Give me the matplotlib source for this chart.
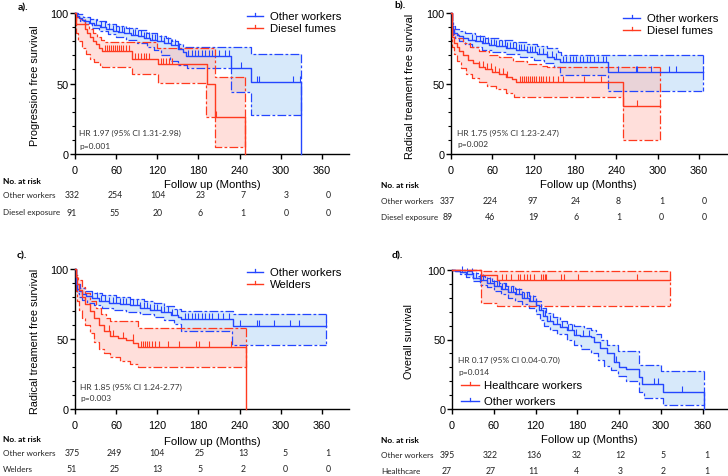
import numpy as np
import matplotlib
matplotlib.use('Agg')
import matplotlib.pyplot as plt
from matplotlib.lines import Line2D

W, H = 728, 477
BLUE = "#2446FF"
RED = "#FF3A1F"
BLUE_FILL = "#A8D0F6"
RED_FILL = "#FFB9B0"
AX_FONT = "Liberation Sans"
SMALL_FONT = "Lato"

# ---- data: (months, survival %) step points ----
# a) progression free survival
a_oth = [(0,100),(3,98),(6,96.5),(10,95),(15,94),(20,93),(28,91.5),(36,90),(45,89),(55,87.5),(62,86.5),(72,85.5),(82,84.5),(92,83.5),(100,82.5),(110,81),(120,80),(130,78.5),(140,77),(150,74.5),(157,72),(162,69.5),(228,61),(256,51.3),(329,0)]
a_oth_hi = [(0,100),(5,99),(12,97.5),(22,96),(32,94),(45,92.5),(60,91),(75,89.5),(90,88),(105,86),(120,84),(132,82),(142,80),(150,78),(157,76),(256,71),(329,71)]
a_oth_lo = [(0,100),(3,97),(8,94),(15,92),(25,89.5),(35,87),(48,85),(60,83),(75,81),(90,79),(105,76),(115,74),(125,70),(138,66),(150,63),(163,61),(228,43.7),(256,27.8),(329,27.8)]
a_die = [(0,100),(2,92),(12,92),(15,89),(18,86),(22,83),(26,80),(30,78),(35,75.5),(40,73),(83,67.5),(121,64),(192,50),(204,26),(248,0)]
a_die_hi = [(0,100),(2,97),(8,95.5),(14,92),(20,89),(26,86),(32,83),(38,81),(43,79.5),(120,75),(204,54.4),(248,54.4)]
a_die_lo = [(0,100),(2,86),(5,80),(10,75.5),(16,71),(22,67.5),(28,65),(36,63),(40,61.5),(83,56.7),(121,50.6),(191,26),(204,5.2),(248,5.2)]
a_oth_cens = [22,30,38,44,50,56,60,64,68,72,78,84,88,92,96,100,104,108,112,116,120,125,130,135,140,146,152,165,170,175,180,185,190,196,200,210,218,225,242,265,268,318,328]
a_die_cens = [44,47,50,53,56,58,61,64,67,70,74,78,88,92,96,100,104,108,126,129,133,137,142,205]

# b) radical treatment free survival, diesel
b_oth = [(0,100),(1,95),(2,91),(3,88),(5,86),(8,84.5),(12,83.5),(18,82.5),(25,81),(35,80),(45,78.5),(55,77.5),(65,76.5),(80,75.5),(95,74),(110,72.5),(125,71),(140,69),(150,67.5),(158,65),(228,58.3),(366,58.3)]
b_oth_hi = [(0,100),(1,97),(2,93.5),(3,90.5),(6,88.5),(12,87),(20,86),(35,84),(50,82.5),(70,81),(90,79.5),(110,78),(125,76.5),(140,75),(155,72.5),(160,70),(366,70)]
b_oth_lo = [(0,100),(1,93),(2,88),(3,84.5),(6,82),(12,80),(20,78),(30,76),(45,74),(60,72.5),(80,71),(100,69),(120,67),(135,64.5),(150,62),(158,56),(228,45),(366,45)]
b_die = [(0,100),(1,88),(2,83),(4,79),(8,76),(12,73),(18,70),(25,67),(32,64.5),(40,62),(50,60),(60,58.4),(70,56.5),(80,54.5),(88,53),(95,51.3),(250,34.3),(303,34.3)]
b_die_hi = [(0,100),(1,93),(2,89),(5,85),(10,82),(18,79),(28,76),(40,73),(55,70.5),(70,68.5),(90,66),(110,64),(130,62.5),(140,61.5),(303,61.5)]
b_die_lo = [(0,100),(1,82),(2,76),(4,71),(8,66),(14,61),(22,57),(30,54),(40,51),(52,48),(65,46),(80,43.5),(92,40.2),(250,10.2),(303,10.2)]
b_oth_cens = [30,36,42,46,50,54,58,62,66,70,74,78,82,86,90,94,98,102,106,110,114,118,122,128,134,140,146,152,162,167,172,177,182,187,192,197,202,208,214,220,225,242,268,270,291,317,327,366]
b_die_cens = [40,46,52,58,64,70,76,82,100,103,106,109,112,115,118,121,124,127,130,134,138,142,148,155,162,193,218,270]

# c) radical treatment free survival, welders
c_oth = [(0,100),(1,94),(2,89),(3,86),(6,84),(10,82),(16,80.5),(25,79),(35,77.5),(50,76),(65,75),(80,74),(95,72.5),(110,71),(125,69.5),(140,67.5),(150,66),(155,64.3),(230,59),(366,59)]
c_oth_hi = [(0,100),(1,96),(2,92),(3,89.5),(8,86.5),(15,84.5),(25,83),(40,81.5),(60,80),(80,78.5),(100,77),(115,75.5),(130,73.5),(145,71.5),(155,69.8),(230,67.9),(366,67.9)]
c_oth_lo = [(0,100),(1,92),(2,86),(3,83),(6,80),(10,78),(18,76),(28,74),(40,72.5),(55,71),(75,69.5),(95,68),(115,65.5),(130,63.5),(145,61),(155,56),(229,46),(366,46)]
c_wel = [(0,100),(1,94),(3,89),(6,85),(10,80),(15,75),(22,70),(28,65),(35,60),(42,56),(51,52),(62,50.5),(75,49),(85,47),(92,44),(249,0)]
c_wel_hi = [(0,100),(2,96),(5,92),(10,87),(15,83),(22,77),(30,72),(38,68),(45,65),(51,63),(92,58),(249,58)]
c_wel_lo = [(0,100),(1,84),(3,77),(6,71),(10,65),(15,60),(22,54),(28,48),(35,43),(42,40),(51,37),(65,34),(80,32),(92,30),(249,30)]
c_oth_cens = [25,32,38,44,50,55,60,65,70,75,80,85,90,95,100,105,110,115,120,125,130,136,142,148,160,165,170,175,180,185,190,195,200,208,216,224,240,265,268,290,313,327,366]
c_wel_cens = [50,56,70,84,96,99,102,105,108,112,116,122,136,152,176,181,196,228]

# d) overall survival
d_hc = [(0,100),(41,96.3),(65,92.8),(313,92.8)]
d_hc_hi = [(0,100),(41,99.6),(65,99.2),(313,99.2)]
d_hc_lo = [(0,100),(41,76.5),(65,74),(313,74)]
d_oth = [(0,100),(5,99.5),(12,98.5),(20,97),(30,94.5),(40,92.5),(50,90.5),(60,88.5),(70,86.5),(80,84.5),(90,82.5),(100,80),(110,77.5),(120,74.5),(125,71),(130,67),(136,63.5),(145,61),(155,59),(165,57),(175,53.5),(183,52.5),(200,52),(204,48),(212,44),(222,40),(232,34),(240,30),(250,28.5),(268,23),(272,18),(303,12),(362,0)]
d_oth_hi = [(0,100),(10,100),(18,99),(28,97.5),(38,96),(48,94),(58,92),(68,90.5),(78,88.5),(90,86),(100,84),(110,81),(120,77.5),(128,73),(135,69),(145,66),(155,63),(165,61),(175,59.5),(190,58.5),(200,57),(207,54),(214,50),(222,46),(238,42),(268,32),(300,27),(362,27)]
d_oth_lo = [(0,100),(5,99),(12,97),(20,95),(30,92),(40,89.5),(50,87.5),(60,85),(70,83),(80,80),(90,78),(100,75.5),(110,72.5),(120,68.5),(126,64),(132,60),(140,57),(150,54),(165,50),(175,46),(185,43),(200,40),(210,35),(218,31),(228,28),(238,24),(250,20),(268,12),(276,8),(303,3),(362,3)]
d_hc_cens = [72,78,84,94,98,104,108,112,118,127,130,133,135,156,160,181,266,313]
d_oth_cens = [15,22,28,34,40,45,50,55,60,64,68,72,76,80,84,88,92,96,100,104,108,112,116,120,128,134,140,150,158,166,172,178,188,196,232,236,290,295,330]

# numbers at risk
months_risk = [0, 60, 120, 180, 240, 300, 360]
a_risk = {"Other workers": [332, 254, 104, 23, 7, 3, 0], "Diesel exposure": [91, 55, 20, 6, 1, 0, 0]}
b_risk = {"Other workers": [337, 224, 97, 24, 8, 1, 0], "Diesel exposure": [89, 46, 19, 6, 1, 0, 0]}
c_risk = {"Other workers": [375, 249, 104, 25, 13, 5, 1], "Welders": [51, 25, 13, 5, 2, 0, 0]}
d_risk = {"Other workers": [395, 322, 136, 32, 12, 5, 1], "Healthcare": [27, 27, 11, 4, 3, 2, 1]}


def fx(x):
    return x / W


def fy(y):
    return 1 - y / H


def step_at(t, s, q):
    idx = np.searchsorted(t, q, side='right') - 1
    return s[np.clip(idx, 0, None)]


def group(ax, main, hi, lo, cens, color, fill):
    t, s = np.array(main, dtype=float).T
    th, sh = np.array(hi, dtype=float).T
    tl, sl = np.array(lo, dtype=float).T
    tt = np.union1d(th, tl)
    tt = tt[tt <= min(th[-1], tl[-1])]
    ax.fill_between(tt, step_at(tl, sl, tt), step_at(th, sh, tt), step='post',
                    color=fill, alpha=0.45, lw=0, zorder=1)
    dash = (0, (7, 1.8, 2.2, 1.8))
    ax.plot(th, sh, drawstyle='steps-post', color=color, lw=0.9, ls=dash, clip_on=False, zorder=2)
    ax.plot(tl, sl, drawstyle='steps-post', color=color, lw=0.9, ls=dash, clip_on=False, zorder=2)
    ax.plot([th[-1], th[-1]], [sh[-1], sl[-1]], color=color, lw=0.9, ls=dash, clip_on=False, zorder=2)
    ax.plot(t, s, drawstyle='steps-post', color=color, lw=1.0, clip_on=False, zorder=3)
    c = np.array(cens, dtype=float)
    ax.plot(c, step_at(t, s, c), ls='none', marker=2, ms=4, mew=0.8, color=color, clip_on=False, zorder=3)


def style(ax, xmax, ylabel, ylab_x, xlab_y):
    ax.set_xlim(0, xmax)
    ax.set_ylim(0, 100)
    for sp in ['top', 'right']:
        ax.spines[sp].set_visible(False)
    for sp in ['left', 'bottom']:
        ax.spines[sp].set_linewidth(1.0)
    ax.set_xticks(months_risk)
    ax.set_yticks([0, 50, 100])
    ax.set_yticks(np.arange(0, 101, 10), minor=True)
    ax.tick_params(axis='both', which='major', direction='out', length=3.6, width=1.0,
                   labelsize=7.8, pad=1)
    ax.tick_params(axis='x', which='major', pad=4)
    ax.tick_params(axis='y', which='minor', length=2.2, width=0.8)
    for lab in ax.get_xticklabels() + ax.get_yticklabels():
        lab.set_fontfamily(AX_FONT)
    ax.set_ylabel(ylabel, fontsize=7.8, fontfamily=AX_FONT)
    ax.yaxis.set_label_coords(ylab_x, 0.49)
    ax.set_xlabel("Follow up (Months)", fontsize=8.2, fontfamily=AX_FONT)
    ax.xaxis.set_label_coords(0.5, xlab_y)


def legend(fig, x1, x2, xt, rows):
    for (y, color, text) in rows:
        fig.add_artist(Line2D([fx(x1), fx(x2)], [fy(y), fy(y)], color=color, lw=1.0))
        xm = (x1 + x2) / 2
        fig.add_artist(Line2D([fx(xm), fx(xm)], [fy(y), fy(y - 3.5)], color=color, lw=0.9))
        fig.text(fx(xt), fy(y), text, fontsize=8.2, fontfamily=AX_FONT, va='center', ha='left')


def hr_text(fig, x, y1, y2, hr, p):
    fig.text(fx(x), fy(y1), hr, fontsize=6, fontfamily=SMALL_FONT, color="#333333", va='center')
    fig.text(fx(x), fy(y2), p, fontsize=6, fontfamily=SMALL_FONT, color="#333333", va='center')


def risk_table(fig, lx, ys, nx0, step, risk):
    fig.text(fx(lx), fy(ys[0]), "No. at risk", fontsize=6.0, fontweight='bold',
             fontfamily=SMALL_FONT, va='center')
    for (name, vals), y in zip(risk.items(), ys[1:]):
        fig.text(fx(lx), fy(y), name, fontsize=5.9, fontfamily=SMALL_FONT, va='center', color="#222222")
        for i, v in enumerate(vals):
            fig.text(fx(nx0 + i * step), fy(y), str(v), fontsize=6.3, fontfamily=SMALL_FONT,
                     va='center', ha='center', color="#222222")


fig = plt.figure(figsize=(W / 100, H / 100), dpi=100)
fig.patch.set_facecolor("white")

ax_a = fig.add_axes([fx(75), fy(155), (349.4 - 75) / W, 141 / H])
ax_b = fig.add_axes([fx(451), fy(155), 275.6 / W, 141 / H])
ax_c = fig.add_axes([fx(75), fy(410), (349.4 - 75) / W, 140 / H])
ax_d = fig.add_axes([fx(452), fy(410), 275 / W, 139 / H])

# a
group(ax_a, a_oth, a_oth_hi, a_oth_lo, a_oth_cens, BLUE, BLUE_FILL)
group(ax_a, a_die, a_die_hi, a_die_lo, a_die_cens, RED, RED_FILL)
style(ax_a, 400, "Progression free survival", -0.128, -0.175)
# b
group(ax_b, b_oth, b_oth_hi, b_oth_lo, b_oth_cens, BLUE, BLUE_FILL)
group(ax_b, b_die, b_die_hi, b_die_lo, b_die_cens, RED, RED_FILL)
style(ax_b, 400, "Radical treament free survival", -0.13, -0.175)
# c
group(ax_c, c_oth, c_oth_hi, c_oth_lo, c_oth_cens, BLUE, BLUE_FILL)
group(ax_c, c_wel, c_wel_hi, c_wel_lo, c_wel_cens, RED, RED_FILL)
style(ax_c, 400, "Radical treament free survival", -0.128, -0.19)
# d
group(ax_d, d_oth, d_oth_hi, d_oth_lo, d_oth_cens, BLUE, BLUE_FILL)
group(ax_d, d_hc, d_hc_hi, d_hc_lo, d_hc_cens, RED, RED_FILL)
style(ax_d, 275 / 0.697, "Overall survival", -0.138, -0.18)

# panel letters
for x, y, s in [(18, 8, "a)."), (394, 6, "b)."), (17, 256, "c)."), (392, 256, "d).")]:
    fig.text(fx(x), fy(y), s, fontsize=7.5, fontweight='bold', fontfamily=SMALL_FONT, va='center')

legend(fig, 247, 263, 270, [(17, BLUE, "Other workers"), (29, RED, "Diesel fumes")])
legend(fig, 623, 640, 647, [(19, BLUE, "Other workers"), (31, RED, "Diesel fumes")])
legend(fig, 247, 263, 270, [(273, BLUE, "Other workers"), (285, RED, "Welders")])
legend(fig, 461, 479, 484, [(386, RED, "Healthcare workers"), (402, BLUE, "Other workers")])

hr_text(fig, 79, 133, 146, "HR 1.97 (95% CI 1.31-2.98)", "p=0.001")
hr_text(fig, 457, 133, 145, "HR 1.75 (95% CI 1.23-2.47)", "p=0.002")
hr_text(fig, 80, 387, 399, "HR 1.85 (95% CI 1.24-2.77)", "p=0.003")
hr_text(fig, 458, 360, 373, "HR 0.17 (95% CI 0.04-0.70)", "p=0.014")

risk_table(fig, 3, (181, 196, 213), 72, 42.8, a_risk)
risk_table(fig, 381, (185, 201, 218), 447.3, 42.8, b_risk)
risk_table(fig, 3, (440, 454, 470), 72, 42.7, c_risk)
risk_table(fig, 381, (441, 456, 472), 447, 43.3, d_risk)

fig.savefig("out.png", dpi=100)
plt.close(fig)
